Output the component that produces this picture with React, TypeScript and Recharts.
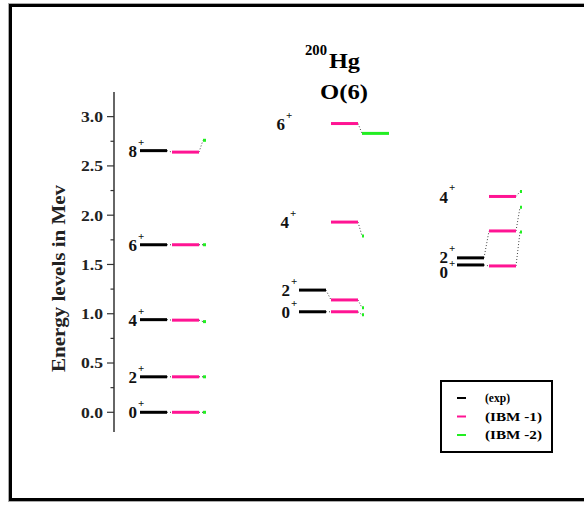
import React from "react";
import { ComposedChart, Line, Scatter, XAxis, YAxis } from "recharts";

// Level energies in MeV. Columns: ground band, O(6) side band, upper band.
const spinsGround = ["0", "2", "4", "6", "8"];
const expGround = [0.0, 0.36, 0.94, 1.7, 2.655];
const ibm1Ground = [0.0, 0.36, 0.935, 1.7, 2.64];
const ibm2Ground = [0.0, 0.36, 0.92, 1.7, 2.76];

const spinsMid = ["0", "2", "4", "6"];
const expMid: (number | null)[] = [1.02, 1.24, null, null];
const ibm1Mid = [1.02, 1.14, 1.93, 2.93];
const ibm2Mid = [0.99, 1.06, 1.79, 2.83];

const spinsUpper = ["0", "2", "4"];
const expUpper: (number | null)[] = [1.495, 1.567, null];
const ibm1Upper = [1.485, 1.84, 2.19];
const ibm2Upper = [1.83, 2.08, 2.24];

const yTicks = [0, 0.25, 0.5, 0.75, 1.0, 1.25, 1.5, 1.75, 2.0, 2.25, 2.5, 2.75, 3.0];

const legendItems = [
  { name: "(exp)", color: "#000000", len: 25 },
  { name: "(IBM -1)", color: "#ff1493", len: 57 },
  { name: "(IBM -2)", color: "#22ee22", len: 57 },
];

// ---- layout ----
const W = 584;
const H = 506;
const AXIS_X = 114;
const BLACK = "#000000";
const PINK = "#ff1493";
const GREEN = "#22ee22";
const DOT = "#444444";
const SERIF = "'Liberation Serif', 'Times New Roman', serif";

const columns = [
  { spins: spinsGround, exp: expGround as (number | null)[], ibm1: ibm1Ground, ibm2: ibm2Ground },
  { spins: spinsMid, exp: expMid, ibm1: ibm1Mid, ibm2: ibm2Mid },
  { spins: spinsUpper, exp: expUpper, ibm1: ibm1Upper, ibm2: ibm2Upper },
];

// px to the right of the y axis
const COL_X = [26, 185, 343];
const LABEL_X = [23, 176, 334];
const LABEL_DX = [
  [0, 0, 0, 0, 0],
  [0, 0, -1, -5],
  [0, 0, 0],
];
const LABEL_DY = [
  [0, 0, 0, 0, 0],
  [0, 0, 0, 0],
  [7, -1, 0],
];
const GREEN_LEN = [
  [3, 3, 3, 3, 3],
  [2, 2, 2, 27],
  [2, 2, 2],
];

type Pt = { x: number; y: number };
type Seg = { id: string; color: string; dotted: boolean; pts: Pt[] };

const segs: Seg[] = [];
const labels: { x: number; y: number; spin: string; dy: number }[] = [];

columns.forEach((col, c) => {
  const x0 = COL_X[c];
  col.spins.forEach((spin, i) => {
    const e = col.exp[i];
    const t1 = col.ibm1[i];
    const t2 = col.ibm2[i];
    if (e != null) {
      segs.push({ id: `ce${c}-${i}`, color: DOT, dotted: true, pts: [{ x: x0 + 27, y: e }, { x: x0 + 32, y: t1 }] });
    }
    segs.push({ id: `ct${c}-${i}`, color: DOT, dotted: true, pts: [{ x: x0 + 59, y: t1 }, { x: x0 + 63, y: t2 }] });
    if (e != null) {
      segs.push({ id: `e${c}-${i}`, color: BLACK, dotted: false, pts: [{ x: x0, y: e }, { x: x0 + 27, y: e }] });
    }
    segs.push({ id: `a${c}-${i}`, color: PINK, dotted: false, pts: [{ x: x0 + 32, y: t1 }, { x: x0 + 59, y: t1 }] });
    segs.push({
      id: `b${c}-${i}`,
      color: GREEN,
      dotted: false,
      pts: [{ x: x0 + 63, y: t2 }, { x: x0 + 63 + GREEN_LEN[c][i], y: t2 }],
    });
    labels.push({ x: LABEL_X[c] + LABEL_DX[c][i], y: e != null ? e : t1, spin, dy: LABEL_DY[c][i] });
  });
});

function YTick(props: any) {
  const { y, payload } = props;
  const v = payload.value as number;
  const major = Math.abs(v * 2 - Math.round(v * 2)) < 1e-6;
  return (
    <g>
      <line x1={AXIS_X - (major ? 7 : 3.5)} x2={AXIS_X} y1={y} y2={y} stroke="#333" strokeWidth={1.2} />
      {major && (
        <text
          x={103}
          y={y}
          dy="0.36em"
          textAnchor="end"
          fontFamily={SERIF}
          fontWeight="bold"
          fontSize={15}
          fill="#222"
          textLength={22}
          lengthAdjust="spacingAndGlyphs"
        >
          {v.toFixed(1)}
        </text>
      )}
    </g>
  );
}

function SpinLabel(props: any) {
  const { cx, cy, payload } = props;
  const y = cy + payload.dy;
  return (
    <g>
      <text x={cx} y={y} dy="0.36em" textAnchor="end" fontFamily={SERIF} fontWeight="bold" fontSize={17} fill="#111">
        {payload.spin}
      </text>
      <text x={cx + 1} y={y - 5} textAnchor="start" fontFamily={SERIF} fontWeight="bold" fontSize={11} fill="#111">
        +
      </text>
    </g>
  );
}

export default function App() {
  return (
    <div style={{ position: "absolute", left: 0, top: 0, width: W, height: H, overflow: "hidden", background: "#fff" }}>
      <ComposedChart width={W} height={H} margin={{ top: 92, right: 0, bottom: 74, left: 0 }}>
        <XAxis dataKey="x" type="number" domain={[0, W - AXIS_X]} allowDataOverflow hide />
        <YAxis
          dataKey="y"
          type="number"
          width={AXIS_X}
          domain={[-0.2, 3.25]}
          allowDataOverflow
          ticks={yTicks}
          interval={0}
          tickSize={0}
          tickMargin={0}
          tickLine={false}
          axisLine={{ stroke: "#333", strokeWidth: 1.5 }}
          tick={<YTick />}
        />
        {segs.map((s) => (
          <Line
            key={s.id}
            data={s.pts}
            dataKey="y"
            stroke={s.color}
            strokeWidth={s.dotted ? 1 : 3}
            strokeDasharray={s.dotted ? "1 2" : undefined}
            dot={false}
            activeDot={false}
            legendType="none"
            isAnimationActive={false}
          />
        ))}
        <Scatter data={labels} shape={<SpinLabel />} isAnimationActive={false} legendType="none" />
      </ComposedChart>

      <svg width={W} height={H} style={{ position: "absolute", left: 0, top: 0, pointerEvents: "none" }}>
        {/* outer frame */}
        <rect x={8.5} y={3.5} width={620} height={498} fill="none" stroke="#aaa" strokeWidth={1} />
        <rect x={10.5} y={5.5} width={620} height={494} fill="none" stroke="#000" strokeWidth={3} />

        {/* title */}
        <text x={305} y={55} fontFamily={SERIF} fontWeight="bold" fontSize={14} textLength={22} lengthAdjust="spacingAndGlyphs">
          200
        </text>
        <text x={329} y={68} fontFamily={SERIF} fontWeight="bold" fontSize={20} textLength={31} lengthAdjust="spacingAndGlyphs">
          Hg
        </text>
        <text x={320} y={99} fontFamily={SERIF} fontWeight="bold" fontSize={22} textLength={48} lengthAdjust="spacingAndGlyphs">
          O(6)
        </text>

        {/* y axis title */}
        <text
          x={65}
          y={278.5}
          transform="rotate(-90, 65, 278.5)"
          textAnchor="middle"
          fontFamily={SERIF}
          fontWeight="bold"
          fontSize={18}
          fill="#222"
          textLength={187}
          lengthAdjust="spacingAndGlyphs"
        >
          Energy levels in Mev
        </text>

        {/* legend */}
        <rect x={441} y={381} width={111} height={71} fill="#fff" stroke="#000" strokeWidth={2} />
        {legendItems.map((it, i) => {
          const y = 398 + i * 18.5;
          return (
            <g key={it.name}>
              <line x1={457} x2={466} y1={y} y2={y} stroke={it.color} strokeWidth={2} />
              <text
                x={485}
                y={y + 4}
                fontFamily={SERIF}
                fontWeight="bold"
                fontSize={12.5}
                textLength={it.len}
                lengthAdjust="spacingAndGlyphs"
              >
                {it.name}
              </text>
            </g>
          );
        })}
      </svg>
    </div>
  );
}
